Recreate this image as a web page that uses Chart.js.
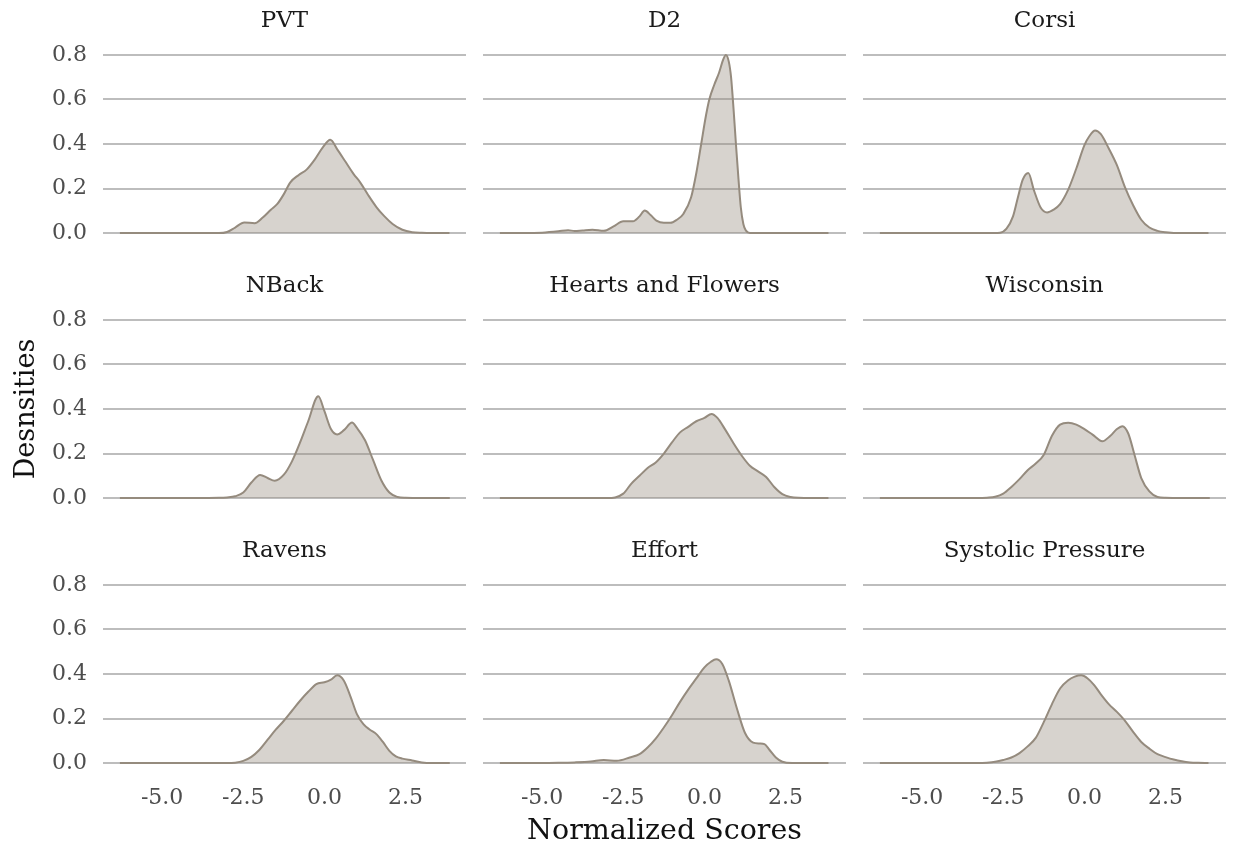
<!DOCTYPE html>
<html lang="en">
<head>
<meta charset="UTF-8">
<title>Densities of normalized scores</title>
<script src="https://cdn.jsdelivr.net/npm/chart.js"></script>
<style>
  body { margin: 0; background: #ffffff; }
  #wrap { position: relative; width: 1233px; height: 851px; overflow: hidden; }
  .panel { position: absolute; }
</style>
</head>
<body>
<div id="wrap"></div>
<script>
const panelTitles = ["PVT", "D2", "Corsi", "NBack", "Hearts and Flowers", "Wisconsin", "Ravens", "Effort", "Systolic Pressure"];
const yTicks = [0, 0.2, 0.4, 0.6, 0.8];
const xTicks = [-5, -2.5, 0, 2.5];

// densities, one x/y pair per panel
const pvtX = [-6.3, -5, -4, -3.25, -3.0, -2.75, -2.47, -2.15, -1.9, -1.65, -1.45, -1.25, -1.05, -0.8, -0.55, -0.3, -0.05, 0.18, 0.4, 0.65, 0.9, 1.1, 1.35, 1.6, 1.85, 2.1, 2.4, 2.7, 3.0, 3.3, 3.85];
const pvtY = [0, 0, 0, 0, 0.005, 0.025, 0.048, 0.044, 0.07, 0.105, 0.131, 0.175, 0.228, 0.26, 0.285, 0.33, 0.385, 0.419, 0.375, 0.32, 0.265, 0.228, 0.17, 0.117, 0.075, 0.041, 0.015, 0.004, 0.001, 0, 0];

const d2X = [-6.3, -5.5, -5.0, -4.5, -4.2, -4.0, -3.75, -3.45, -3.1, -2.8, -2.5, -2.2, -2.0, -1.84, -1.65, -1.48, -1.25, -1.05, -0.85, -0.65, -0.41, -0.25, -0.1, 0.05, 0.15, 0.3, 0.45, 0.58, 0.66, 0.75, 0.82, 0.9, 0.97, 1.05, 1.12, 1.2, 1.28, 1.4, 2.0, 3.0, 3.82];
const d2Y = [0, 0, 0.002, 0.008, 0.013, 0.009, 0.012, 0.015, 0.01, 0.03, 0.053, 0.053, 0.075, 0.101, 0.08, 0.056, 0.046, 0.046, 0.06, 0.086, 0.161, 0.27, 0.40, 0.53, 0.60, 0.665, 0.72, 0.78, 0.80, 0.77, 0.70, 0.55, 0.40, 0.24, 0.116, 0.04, 0.011, 0, 0, 0, 0];

const corsiX = [-6.3, -5, -4, -3, -2.6, -2.4, -2.2, -2.05, -1.9, -1.73, -1.55, -1.35, -1.15, -0.95, -0.75, -0.5, -0.25, 0.0, 0.15, 0.33, 0.5, 0.75, 1.0, 1.25, 1.5, 1.75, 2.0, 2.25, 2.5, 3.0, 3.82];
const corsiY = [0, 0, 0, 0, 0.002, 0.02, 0.075, 0.16, 0.24, 0.27, 0.19, 0.115, 0.093, 0.105, 0.13, 0.195, 0.29, 0.395, 0.435, 0.461, 0.445, 0.38, 0.305, 0.205, 0.125, 0.06, 0.025, 0.01, 0.004, 0, 0];

const nbackX = [-6.3, -5, -4, -3.25, -3.0, -2.75, -2.5, -2.25, -1.98, -1.75, -1.53, -1.25, -1.0, -0.75, -0.5, -0.19, 0.0, 0.2, 0.39, 0.6, 0.85, 1.0, 1.25, 1.5, 1.75, 2.0, 2.25, 2.5, 3.0, 3.86];
const nbackY = [0, 0, 0, 0.001, 0.003, 0.008, 0.025, 0.07, 0.104, 0.09, 0.078, 0.105, 0.165, 0.25, 0.345, 0.457, 0.39, 0.31, 0.286, 0.305, 0.339, 0.315, 0.26, 0.17, 0.08, 0.025, 0.005, 0.001, 0, 0];

const heartsX = [-6.3, -5, -4, -3, -2.75, -2.5, -2.25, -2.0, -1.75, -1.5, -1.25, -1.0, -0.75, -0.5, -0.25, 0.0, 0.22, 0.4, 0.65, 0.9, 1.15, 1.4, 1.65, 1.9, 2.15, 2.4, 2.65, 2.9, 3.3, 3.82];
const heartsY = [0, 0, 0, 0, 0.003, 0.02, 0.065, 0.1, 0.135, 0.16, 0.2, 0.25, 0.295, 0.32, 0.345, 0.36, 0.378, 0.36, 0.305, 0.245, 0.19, 0.145, 0.12, 0.095, 0.05, 0.018, 0.005, 0.001, 0, 0];

const wisconsinX = [-6.3, -5, -4, -3.25, -3.0, -2.75, -2.5, -2.25, -2.0, -1.75, -1.5, -1.25, -1.0, -0.75, -0.5, -0.25, 0.0, 0.25, 0.55, 0.8, 1.0, 1.17, 1.35, 1.55, 1.75, 2.0, 2.25, 2.5, 3.0, 3.86];
const wisconsinY = [0, 0, 0, 0, 0.002, 0.006, 0.02, 0.05, 0.085, 0.125, 0.155, 0.195, 0.28, 0.33, 0.338, 0.33, 0.31, 0.285, 0.255, 0.28, 0.31, 0.323, 0.29, 0.19, 0.09, 0.03, 0.005, 0.001, 0, 0];

const ravensX = [-6.3, -5, -4, -3.0, -2.75, -2.5, -2.25, -2.0, -1.75, -1.5, -1.25, -1.0, -0.75, -0.5, -0.25, 0.0, 0.2, 0.39, 0.6, 0.8, 1.0, 1.2, 1.4, 1.6, 1.8, 2.0, 2.2, 2.4, 2.7, 3.0, 3.3, 3.86];
const ravensY = [0, 0, 0, 0, 0.002, 0.01, 0.028, 0.06, 0.105, 0.15, 0.19, 0.235, 0.28, 0.32, 0.355, 0.363, 0.375, 0.394, 0.37, 0.30, 0.22, 0.175, 0.15, 0.13, 0.095, 0.055, 0.03, 0.02, 0.012, 0.003, 0, 0];

const effortX = [-6.3, -5.0, -4.5, -4.0, -3.5, -3.1, -2.7, -2.3, -2.0, -1.75, -1.5, -1.25, -1.0, -0.75, -0.5, -0.25, 0.0, 0.2, 0.36, 0.55, 0.75, 1.0, 1.25, 1.5, 1.7, 1.85, 2.0, 2.2, 2.4, 2.7, 3.82];
const effortY = [0, 0, 0.001, 0.003, 0.007, 0.014, 0.01, 0.025, 0.04, 0.07, 0.11, 0.16, 0.215, 0.275, 0.33, 0.38, 0.43, 0.455, 0.466, 0.445, 0.37, 0.245, 0.135, 0.092, 0.088, 0.085, 0.06, 0.025, 0.006, 0, 0];

const systolicX = [-6.3, -5, -4, -3.25, -3.0, -2.75, -2.5, -2.25, -2.0, -1.75, -1.5, -1.25, -1.0, -0.75, -0.5, -0.3, -0.1, 0.1, 0.3, 0.5, 0.75, 1.0, 1.25, 1.5, 1.75, 2.0, 2.25, 2.5, 2.75, 3.0, 3.25, 3.5, 3.82];
const systolicY = [0, 0, 0, 0, 0.002, 0.006, 0.014, 0.025, 0.045, 0.075, 0.113, 0.185, 0.265, 0.335, 0.372, 0.388, 0.394, 0.38, 0.35, 0.31, 0.265, 0.23, 0.19, 0.14, 0.095, 0.065, 0.04, 0.027, 0.016, 0.008, 0.003, 0.001, 0];

const panelXs = [pvtX, d2X, corsiX, nbackX, heartsX, wisconsinX, ravensX, effortX, systolicX];
const panelYs = [pvtY, d2Y, corsiY, nbackY, heartsY, wisconsinY, ravensY, effortY, systolicY];

const serif = "'DejaVu Serif', 'Liberation Serif', serif";
const wrap = document.getElementById("wrap");

panelTitles.forEach((name, i) => {
    const col = i % 3;
    const row = Math.floor(i / 3);

    const box = document.createElement("div");
    box.className = "panel";
    box.style.left = (3 + 380 * col) + "px";
    box.style.top = (7 + 265 * row) + "px";
    const canvas = document.createElement("canvas");
    canvas.width = 563;
    canvas.height = 309;
    box.appendChild(canvas);
    wrap.appendChild(box);

    const points = panelXs[i].map((x, k) => ({ x: x, y: panelYs[i][k] }));

    new Chart(canvas.getContext("2d"), {
        type: "line",
        data: {
            datasets: [{
                data: points,
                fill: "origin",
                backgroundColor: "rgba(149, 139, 126, 0.38)",
                borderColor: "#958b7e",
                borderWidth: 2,
                pointRadius: 0,
                cubicInterpolationMode: "monotone",
            }],
        },
        options: {
            responsive: false,
            animation: false,
            events: [],
            layout: { padding: 0 },
            plugins: {
                legend: { display: false },
                tooltip: { enabled: false },
                title: {
                    display: true,
                    text: name,
                    color: "#1a1a1a",
                    font: { family: serif, size: 23, weight: "normal", lineHeight: "26px" },
                    padding: { top: 1, bottom: 12 },
                },
            },
            scales: {
                x: {
                    type: "linear",
                    min: -6.82,
                    max: 4.36,
                    afterBuildTicks: (scale) => { scale.ticks = xTicks.map(v => ({ value: v })); },
                    afterFit: (scale) => { scale.height = 74; scale.paddingLeft = 0; scale.paddingRight = 0; },
                    grid: { display: false, drawTicks: false },
                    border: { display: false },
                    ticks: {
                        display: row === 2,
                        padding: 13,
                        maxRotation: 0,
                        color: "#4d4d4d",
                        font: { family: serif, size: 22 },
                        callback: (v) => Number(v).toFixed(1),
                    },
                    title: {
                        display: row === 2 && col === 1,
                        text: "Normalized Scores",
                        color: "#111111",
                        font: { family: serif, size: 28.5, lineHeight: 1 },
                        padding: 0,
                    },
                },
                y: {
                    type: "linear",
                    min: -0.04,
                    max: 0.84,
                    afterBuildTicks: (scale) => { scale.ticks = yTicks.map(v => ({ value: v })); },
                    afterFit: (scale) => { scale.width = 100; scale.paddingTop = 0; scale.paddingBottom = 0; },
                    grid: { color: "#bdbdbd", lineWidth: 2, drawTicks: false },
                    border: { display: false },
                    ticks: {
                        display: col === 0,
                        padding: 16,
                        color: "#4d4d4d",
                        font: { family: serif, size: 22 },
                        callback: (v) => Number(v).toFixed(1),
                    },
                    title: {
                        display: row === 1 && col === 0,
                        text: "Desnsities",
                        color: "#111111",
                        font: { family: serif, size: 27, lineHeight: 1 },
                        padding: { top: 10, bottom: 0 },
                    },
                },
                // empty right-hand axis, same width as the left one, keeps the title centred on the plot
                yRight: {
                    type: "linear",
                    position: "right",
                    display: true,
                    min: 0,
                    max: 1,
                    afterFit: (scale) => { scale.width = 100; scale.paddingTop = 0; scale.paddingBottom = 0; },
                    grid: { display: false, drawTicks: false },
                    border: { display: false },
                    ticks: { display: false },
                },
            },
        },
    });
});
</script>
</body>
</html>
